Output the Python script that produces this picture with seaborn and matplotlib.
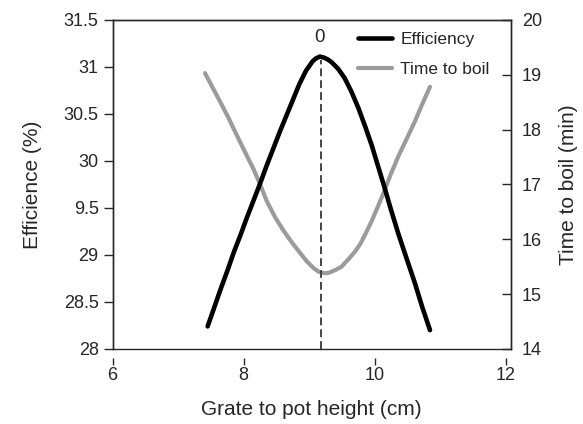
import matplotlib
matplotlib.use("Agg")
import matplotlib.pyplot as plt
import seaborn as sns

# values
eff_x = [7.45, 7.55, 7.65, 7.75, 7.85, 7.95, 8.05, 8.15, 8.25, 8.35, 8.45, 8.55,
         8.65, 8.75, 8.85, 8.95, 9.05, 9.10, 9.16, 9.22, 9.28, 9.34, 9.44, 9.54,
         9.64, 9.75, 9.85, 9.95, 10.05, 10.15, 10.25, 10.36, 10.47, 10.61, 10.72, 10.84]
eff_y = [28.24, 28.44, 28.64, 28.83, 29.03, 29.21, 29.40, 29.58, 29.76, 29.95, 30.13, 30.31,
         30.48, 30.65, 30.82, 30.96, 31.06, 31.09, 31.11, 31.10, 31.08, 31.05, 30.98, 30.88,
         30.74, 30.56, 30.37, 30.17, 29.94, 29.71, 29.47, 29.22, 28.99, 28.70, 28.45, 28.20]

boil_x = [7.41, 7.52, 7.64, 7.77, 7.89, 8.02, 8.15, 8.25, 8.35, 8.48, 8.60, 8.73,
          8.86, 8.96, 9.06, 9.14, 9.19, 9.24, 9.30, 9.40, 9.49, 9.60, 9.70, 9.78,
          9.87, 9.95, 10.04, 10.13, 10.24, 10.36, 10.48, 10.61, 10.72, 10.84]
boil_y = [19.03, 18.78, 18.51, 18.21, 17.91, 17.59, 17.28, 17.00, 16.70, 16.40, 16.17, 15.95,
          15.75, 15.60, 15.48, 15.41, 15.39, 15.38, 15.39, 15.44, 15.50, 15.64, 15.78, 15.92,
          16.13, 16.33, 16.58, 16.84, 17.18, 17.52, 17.82, 18.15, 18.46, 18.78]

optimum_x = 9.18
optimum_label = "0"

left_ticks = [28, 28.5, 29, 29.5, 30, 30.5, 31, 31.5]
left_labels = ["28", "28.5", "29", "9.5", "30", "30.5", "31", "31.5"]
right_ticks = [14, 15, 16, 17, 18, 19, 20]
x_ticks = [6, 8, 10, 12]

sns.set_style("ticks")
plt.rcParams["font.family"] = ["Liberation Sans", "DejaVu Sans"]
plt.rcParams["axes.linewidth"] = 1.0

fig = plt.figure(figsize=(5.83, 4.24), dpi=100)
ax = fig.add_axes([0.193, 0.177, 0.6835, 0.776])
ax2 = ax.twinx()
# efficiency axis on top so the black curve covers the grey one
ax.set_zorder(ax2.get_zorder() + 1)
ax.patch.set_visible(False)

sns.lineplot(x=boil_x, y=boil_y, ax=ax2, color="#9b9b9b", lw=3.0,
             label="Time to boil", legend=False)
ax.vlines(optimum_x, 28, 31.07, colors="#444444", lw=1.4,
          linestyles=(0, (4.0, 2.1)), zorder=2)
sns.lineplot(x=eff_x, y=eff_y, ax=ax, color="black", lw=3.3,
             label="Efficiency", legend=False, zorder=3)
ax.text(optimum_x - 0.02, 31.31, optimum_label, ha="center", va="center", fontsize=13.5)

ax.set_xlim(6, 12.075)
ax.set_ylim(28, 31.5)
ax2.set_ylim(14, 20)

ax.set_xticks(x_ticks)
ax.set_yticks(left_ticks)
ax.set_yticklabels(left_labels)
ax2.set_yticks(right_ticks)

# detached x axis below the box
ax.spines["bottom"].set_position(("outward", 6.5))
ax.spines["bottom"].set_visible(False)
for s in ax.spines.values():
    s.set_linewidth(1.0)
for s in ax2.spines.values():
    s.set_linewidth(1.0)

ax.tick_params(axis="x", direction="out", length=4.8, width=1.0, pad=2, labelsize=13)
ax.tick_params(axis="y", direction="out", length=6.5, width=1.0, pad=3.5, labelsize=13)
ax2.tick_params(axis="y", direction="in", length=6.5, width=1.0, pad=8, labelsize=13)

ax.set_xlabel("Grate to pot height (cm)", fontsize=15, labelpad=11)
ax.set_ylabel("Efficience (%)", fontsize=15, labelpad=15.5)
ax2.set_ylabel("Time to boil (min)", fontsize=15, labelpad=12)

handles = ax.get_lines()[-1:] + ax2.get_lines()[:1]
ax.legend(handles, ["Efficiency", "Time to boil"], loc="upper left",
          bbox_to_anchor=(0.5936, 0.99), frameon=False, borderpad=0,
          fontsize=12.5, handlelength=2.0, handletextpad=0.46, labelspacing=0.84)

fig.savefig("out.png", dpi=100)
